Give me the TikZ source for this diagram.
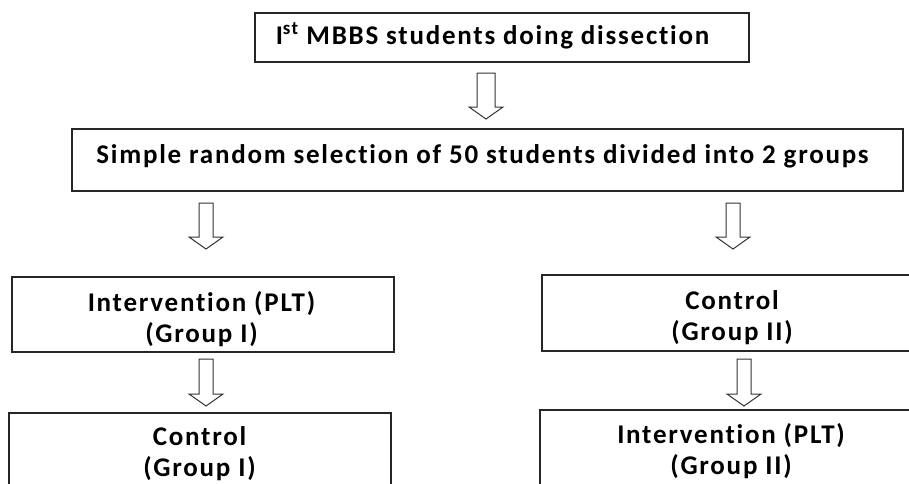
\documentclass[tikz,border=0pt]{standalone}
\usepackage{fontspec}
\setmainfont[Ligatures=NoCommon, LetterSpace=6.5]{Carlito}
\usetikzlibrary{calc}
\newcommand{\blockarrow}[3]{% start, end, shaft half-width
  \draw[blk] ($(#1)+(-#3,0)$) -- ($(#2)+(-#3,-12)$) -- ($(#2)+(-17,-12)$) -- (#2)
    -- ($(#2)+(17,-12)$) -- ($(#2)+(#3,-12)$) -- ($(#1)+(#3,0)$) -- cycle;}
\begin{document}
\begin{tikzpicture}[x=1pt,y=-1pt,
  box/.style={draw=black!85, line width=1.4pt, rectangle, inner sep=0pt},
  txt/.style={inner sep=0pt, align=center, text height=17pt, text depth=0pt,
    font=\bfseries\fontsize{27}{31}\selectfont, text=black},
  txttwo/.style={txt, text height=48pt},
  blk/.style={draw=black!80, line width=1pt, fill=white}]
\useasboundingbox (0,0) rectangle (909,483);
\clip (0,0) rectangle (909,483);

% boxes
\node[box, minimum width=494pt, minimum height=49pt] (top) at (502,37.5) {};
\node[box, minimum width=831pt, minimum height=62pt] (mid) at (487.5,160) {};
\node[box, minimum width=382pt, minimum height=75pt] (l1) at (203,314.5) {};
\node[box, minimum width=382pt, minimum height=82pt] (l2) at (200,454) {};
\node[box, minimum width=380pt, minimum height=76pt] (r1) at (732,313) {};
\node[box, minimum width=382pt, minimum height=80pt] (r2) at (731,450) {};

% texts
\node[txt] (topt) at (492.5,35.5) {I\textsuperscript{st} MBBS students doing dissection};
\node[txt] (midt) at (482.5,154.5) {Simple random selection of 50 students divided into 2 groups};
\node[txttwo] (l1t) at (201.5,318.5) {Intervention (PLT)\\(Group I)};
\node[txttwo] (l2t) at (199.5,452.5) {Control\\(Group I)};
\node[txttwo] (r1t) at (732,316.5) {Control\\(Group II)};
\node[txttwo] (r2t) at (731,450) {Intervention (PLT)\\(Group II)};

% block arrows
\coordinate (a1s) at (486,73);  \coordinate (a1e) at (486,119);
\coordinate (aL1s) at (206,203); \coordinate (aL1e) at (206,249);
\coordinate (aR1s) at (733,203); \coordinate (aR1e) at (733,249);
\coordinate (aL2s) at (206,359); \coordinate (aL2e) at (206,406);
\coordinate (aR2s) at (744,359); \coordinate (aR2e) at (744,406);

\blockarrow{a1s}{a1e}{9}
\blockarrow{aL1s}{aL1e}{7}
\blockarrow{aR1s}{aR1e}{7}
\blockarrow{aL2s}{aL2e}{7}
\blockarrow{aR2s}{aR2e}{7}
\end{tikzpicture}
\end{document}
